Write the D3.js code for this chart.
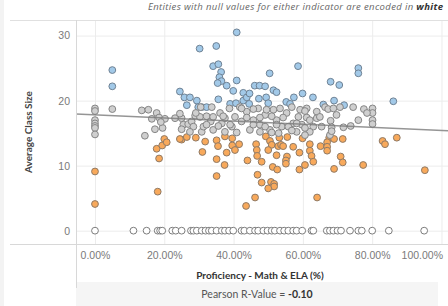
<!DOCTYPE html>
<html>
<head>
  <style>
  body {
    margin: 0;
    background: #fff;
    font-family: "Lato", "Open Sans", sans-serif;
  }
  .grid line { stroke: #ececec; }
  .grid .domain { display: none; }
  .axis .domain { display: none; }
  .axis text { fill: #7a7a7a; font-size: 10.5px; }
  </style>
</head>
<body>
  <div id="chart"></div>
  <script src="https://d3js.org/d3.v7.min.js"></script>
  <script>
  // [proficiency %, average class size]
  var blue = [[5.0,24.7],[5.0,22.2],[24.5,21.4],[25.8,20.5],[27.4,20.5],[26.5,19.3],[29.4,20.0],[29.8,19.0],
    [30.2,28.0],[30.8,19.0],[32.2,19.0],[34.1,25.3],[35.0,28.4],[35.6,25.6],[36.4,24.4],[35.9,23.6],[36.5,23.0],
    [35.4,22.7],[38.0,22.3],[35.6,20.2],[39.0,19.5],[39.9,21.5],[40.7,19.6],[40.9,23.1],[40.9,30.5],[42.8,20.0],
    [42.8,21.2],[43.8,20.5],[44.6,21.1],[44.5,19.5],[46.1,22.3],[47.5,22.3],[49.1,22.2],[47.3,20.3],[49.4,20.5],
    [50.0,19.6],[50.4,24.2],[51.5,21.6],[52.4,21.3],[55.2,19.8],[56.3,19.5],[57.4,20.5],[58.6,25.3],[59.9,21.1],
    [62.9,20.5],[65.9,19.4],[68.0,22.9],[69.0,20.0],[70.5,22.4],[71.9,19.3],[76.0,25.0],[76.0,24.2],[86.1,19.9]];

  var grey = [[0,18.8],[0,18.4],[0,17.0],[0,16.5],[0,16.1],[0,15.8],[0,14.8],[5.0,18.7],
    [13.5,18.5],[15.4,18.6],[17.8,18.1],[16.4,17.2],[18.5,17.4],[20.2,17.2],[17.3,15.6],[19.5,15.8],[19.0,16.7],
    [14.4,14.6],[23.1,17.3],[25.0,17.3],[25.5,16.3],[25.0,15.6],[26.9,16.4],[27.9,16.8],[28.4,16.0],[28.9,17.7],
    [30.3,17.5],[30.8,15.2],[27.4,15.2],[24.5,18.0],[29.1,18.1],[30.5,19.0],[31.3,16.0],[32.2,17.6],[33.7,19.0],
    [33.4,16.8],[34.1,15.5],[36.1,18.1],[36.6,16.5],[37.5,17.3],[38.8,18.8],[39.5,16.0],[40.4,17.5],[41.8,19.0],
    [42.3,16.8],[43.8,18.3],[44.7,15.5],[45.7,17.0],[47.1,18.8],[47.6,16.3],[49.1,17.8],[50.5,15.5],[51.5,18.6],
    [52.4,17.0],[53.9,16.0],[55.3,18.1],[56.8,19.0],[57.2,16.5],[58.7,17.5],[42.3,18.8],[45.7,18.7],[49.5,18.6],
    [53.4,18.8],[59.2,18.6],[61.1,18.8],[64.0,18.3],[34.1,17.5],[37.0,17.6],[43.8,17.4],[47.6,17.4],[51.0,17.6],
    [54.3,17.4],[61.1,17.4],[64.0,17.3],[32.2,16.3],[35.6,16.1],[39.0,16.3],[45.7,16.3],[49.1,16.0],[52.4,16.3],
    [55.8,16.0],[59.7,16.3],[63.0,16.0],[37.5,15.2],[40.9,15.1],[47.6,15.2],[51.0,15.1],[58.2,15.2],[53.0,15.0],
    [56.8,15.4],[62.0,15.2],[60.6,18.4],[66.4,19.0],[67.3,18.7],[68.8,18.8],[70.7,19.0],[74.5,19.0],[77.6,18.7],
    [80.1,18.8],[80.1,18.1],[78.5,18.1],[76.0,17.0],[80.1,17.0],[80.1,16.4],[68.0,16.9],[62.0,17.0],[65.4,16.0],
    [68.3,15.9],[71.7,15.9],[73.8,16.1],[60.6,15.8],[58.2,16.5],[69.7,17.8],[60.6,14.7],[67.8,14.7],[68.3,15.3],
    [64.9,17.5]];

  var orange = [[0,9.1],[0,4.1],[18.1,6.0],[18.5,11.1],[17.8,12.6],[19.4,13.1],[20.0,14.1],[20.7,13.6],[25.0,14.0],
    [26.5,14.4],[29.1,14.3],[31.0,12.1],[31.8,13.7],[35.1,13.9],[35.5,13.0],[37.5,14.5],[39.6,14.2],[39.6,13.1],
    [41.6,13.3],[40.4,12.4],[38.0,12.0],[35.1,11.0],[37.4,10.1],[35.1,8.4],[44.0,10.8],[46.5,13.3],[46.7,12.4],
    [46.8,11.5],[48.1,10.6],[46.9,8.6],[48.1,7.4],[46.2,5.1],[43.6,3.8],[49.3,14.5],[50.5,13.8],[51.0,13.2],
    [50.0,12.4],[52.4,11.6],[51.3,9.8],[52.6,9.4],[50.8,7.5],[51.7,7.2],[51.7,6.8],[50.0,6.5],[53.2,14.3],
    [52.9,13.0],[53.7,13.2],[55.5,14.4],[54.3,13.0],[55.4,11.4],[55.1,10.8],[55.1,10.3],[59.0,12.0],[59.0,9.4],
    [60.6,10.1],[59.9,14.2],[62.0,13.3],[62.0,12.3],[62.5,11.5],[63.0,10.6],[64.1,5.1],[65.1,13.0],[67.6,14.3],
    [69.0,14.1],[71.5,14.1],[67.0,13.6],[67.0,12.9],[67.0,12.3],[70.9,11.4],[71.5,10.5],[69.0,9.5],[77.4,10.1],
    [83.0,13.8],[83.7,13.3],[87.1,14.3],[95.2,9.3],[57.2,12.9],[24.5,14.1]];

  // nulls: proficiency only, class size plotted at 0
  var nulls = [0,11.1,14.9,18.1,18.8,19.4,22.3,23.3,25.0,27.7,28.4,29.4,30.8,31.9,32.9,33.7,35.1,36.6,37.5,38.7,
    39.9,42.3,43.1,44.7,46.2,47.1,48.6,49.8,51.0,51.9,53.4,54.6,55.8,57.2,58.2,59.8,62.5,63.0,66.9,67.8,68.8,
    70.0,71.0,73.6,76.0,77.0,80.0,84.8,95.0];

  var xTicks = [0, 20, 40, 60, 80, 100];
  var yTicks = [0, 10, 20, 30];
  var trend = {intercept: 17.8, slope: -0.024};
  var pearson = "-0.10";

  var W = 448, H = 306;
  var margin = {top: 20, left: 76, right: 0, bottom: 62};
  var width = W - margin.left - margin.right, height = H - margin.top - margin.bottom;

  var svg = d3.select("#chart").append("svg")
      .attr("width", W)
      .attr("height", H);

  // frame / background pieces
  svg.append("rect").attr("x", 0).attr("y", 0).attr("width", 4).attr("height", H).attr("fill", "#f3f3f3");
  svg.append("rect").attr("x", margin.left).attr("y", 282).attr("width", 362).attr("height", 24).attr("fill", "#f5f5f5");

  var x = d3.scaleLinear().domain([-5.48, 101.88]).range([0, width]);
  var y = d3.scaleLinear().domain([-2.05, 32.4]).range([height, 0]);

  var g = svg.append("g")
      .attr("transform", "translate(" + margin.left + "," + margin.top + ")");

  g.append("g")
      .attr("class", "grid")
      .attr("transform", "translate(0," + height + ")")
      .call(d3.axisBottom(x).tickValues(xTicks).tickSize(-height).tickFormat(""));
  g.append("g")
      .attr("class", "grid")
      .call(d3.axisLeft(y).tickValues(yTicks).tickSize(-width).tickFormat(""));

  // borders
  svg.append("line").attr("x1", 10).attr("x2", W).attr("y1", margin.top + 0.5).attr("y2", margin.top + 0.5)
      .attr("stroke", "#e0e0e0");
  svg.append("line").attr("x1", 10).attr("x2", W).attr("y1", margin.top + height + 0.5).attr("y2", margin.top + height + 0.5)
      .attr("stroke", "#d8d8d8");
  svg.append("line").attr("x1", margin.left + 0.5).attr("x2", margin.left + 0.5).attr("y1", margin.top).attr("y2", 288)
      .attr("stroke", "#d8d8d8");

  // axes labels
  var xa = g.append("g")
      .attr("class", "axis")
      .attr("transform", "translate(0," + height + ")")
      .call(d3.axisBottom(x).tickValues(xTicks).tickSize(0).tickPadding(8)
        .tickFormat(function(d){ return d3.format(".2f")(d) + "%"; }));
  xa.selectAll(".tick text").each(function(){
    var t = d3.select(this);
    var tx = +this.parentNode.getAttribute("transform").match(/translate\(([-\d.]+)/)[1];
    var w = this.getBBox().width;
    if (tx + w / 2 > width - 4) t.attr("text-anchor", "end").attr("x", width - 5 - tx);
  });

  g.append("g")
      .attr("class", "axis")
      .call(d3.axisLeft(y).tickValues(yTicks).tickSize(0).tickPadding(6));

  function dots(data, fill, stroke) {
    g.append("g").selectAll("circle")
        .data(data)
      .enter().append("circle")
        .attr("cx", function(d){ return x(d[0]); })
        .attr("cy", function(d){ return y(d[1]); })
        .attr("r", 3.4)
        .attr("fill", fill)
        .attr("stroke", stroke)
        .attr("stroke-width", 1);
  }

  dots(nulls.map(function(v){ return [v, 0]; }), "#ffffff", "#7d7d7d");
  dots(orange, "#f8a95b", "#8f7a66");
  dots(blue, "#a2c9e8", "#6f8294");
  dots(grey, "#cfcfcf", "#858585");

  g.append("line")
      .attr("x1", x(-5.48)).attr("x2", x(101.88))
      .attr("y1", y(trend.intercept + trend.slope * -5.48))
      .attr("y2", y(trend.intercept + trend.slope * 101.88))
      .attr("stroke", "#7a7a7a")
      .attr("stroke-opacity", 0.8)
      .attr("stroke-width", 1.5);

  // titles
  svg.append("text")
      .attr("transform", "translate(32," + (margin.top + height / 2) + ") rotate(-90)")
      .attr("text-anchor", "middle")
      .style("font-size", "10px")
      .style("font-weight", "bold")
      .style("fill", "#444")
      .text("Average Class Size");

  svg.append("text")
      .attr("x", 260)
      .attr("y", 279)
      .attr("text-anchor", "middle")
      .style("font-size", "10px")
      .style("font-weight", "bold")
      .style("fill", "#333")
      .text("Proficiency - Math & ELA (%)");

  var p = svg.append("text")
      .attr("x", 257)
      .attr("y", 298)
      .attr("text-anchor", "middle")
      .style("font-size", "10.5px")
      .style("fill", "#555");
  p.append("tspan").text("Pearson R-Value = ");
  p.append("tspan").style("font-weight", "bold").style("fill", "#333").text(pearson);

  var s = svg.append("text")
      .attr("x", 443)
      .attr("y", 10)
      .attr("text-anchor", "end")
      .style("font-family", "'Open Sans', sans-serif")
      .style("font-size", "9.5px")
      .style("font-style", "italic")
      .style("fill", "#666");
  s.append("tspan").text("Entities with null values for either indicator are encoded in ");
  s.append("tspan").style("font-weight", "bold").style("fill", "#333").text("white");
  // stretch to the width the source layout gives this note
  var sw = s.node().getComputedTextLength();
  if (sw < 295) s.attr("textLength", 295).attr("lengthAdjust", "spacing");
  </script>
</body>
</html>
